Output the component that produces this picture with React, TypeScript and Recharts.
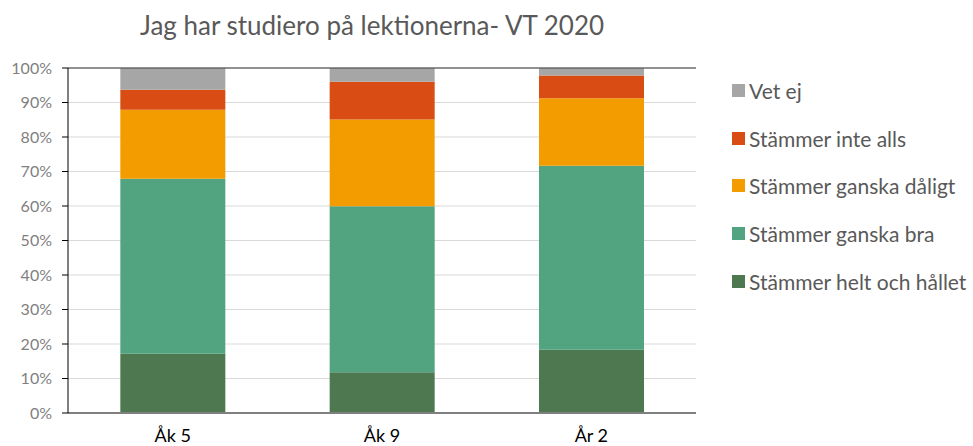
import { BarChart, Bar, XAxis, YAxis, CartesianGrid, ReferenceLine } from "recharts";

// categories (school years)
const categories = ["Åk 5", "Åk 9", "År 2"];

// answer shares in percent, bottom → top of each stack
const heltOchHallet = [17.2, 11.8, 18.3];
const ganskaBra = [50.7, 48.1, 53.4];
const ganskaDaligt = [20.0, 25.2, 19.5];
const inteAlls = [5.8, 10.9, 6.6];
const vetEj = [6.3, 4.0, 2.2];

const yTicks = [0, 10, 20, 30, 40, 50, 60, 70, 80, 90, 100];

const series = [
  { key: "helt", name: "Stämmer helt och hållet", values: heltOchHallet, color: "#4E784F" },
  { key: "bra", name: "Stämmer ganska bra", values: ganskaBra, color: "#52A37F" },
  { key: "daligt", name: "Stämmer ganska dåligt", values: ganskaDaligt, color: "#F39C00" },
  { key: "inte", name: "Stämmer inte alls", values: inteAlls, color: "#D94C13" },
  { key: "vet", name: "Vet ej", values: vetEj, color: "#A6A6A6" },
];

const data = categories.map((cat, i) => {
  const row: any = { cat };
  series.forEach((s) => (row[s.key] = s.values[i]));
  return row;
});

const FONT = "Lato, 'Open Sans', sans-serif";

export default function App() {
  return (
    <div style={{ position: "absolute", left: 0, top: 0, width: 973, height: 446, background: "#fff", fontFamily: FONT }}>
      <div
        style={{
          position: "absolute",
          left: 0,
          width: 744,
          top: 9,
          textAlign: "center",
          fontSize: 26,
          color: "#595959",
        }}
      >
        Jag har studiero på lektionerna- VT 2020
      </div>

      <BarChart
        width={973}
        height={446}
        data={data}
        margin={{ top: 68, right: 277, bottom: 3, left: 8 }}
        barCategoryGap="25%"
      >
        <CartesianGrid vertical={false} stroke="#D9D9D9" />
        <XAxis
          dataKey="cat"
          height={30}
          tickLine={false}
          axisLine={{ stroke: "#7F7F7F", strokeWidth: 2 }}
          tick={{ fill: "#000", fontSize: 18, fontFamily: FONT }}
          tickMargin={10}
        />
        <YAxis
          width={60}
          domain={[0, 100]}
          ticks={yTicks}
          tickFormatter={(v) => `${v}%`}
          axisLine={{ stroke: "#000" }}
          tickLine={{ stroke: "#000" }}
          tickSize={6}
          tickMargin={10}
          tick={{ fill: "#7F7F7F", fontSize: 16, fontFamily: FONT }}
        />
        <YAxis
          yAxisId="r"
          orientation="right"
          width={0}
          domain={[0, 100]}
          tick={false}
          tickLine={false}
          axisLine={{ stroke: "#404040" }}
        />
        <ReferenceLine y={100} stroke="#404040" />
        {series.map((s) => (
          <Bar key={s.key} dataKey={s.key} name={s.name} stackId="a" fill={s.color} isAnimationActive={false} />
        ))}
      </BarChart>

      <div style={{ position: "absolute", left: 732, top: 67 }}>
        {[...series].reverse().map((s) => (
          <div key={s.key} style={{ display: "flex", alignItems: "center", height: 47.6 }}>
            <span style={{ width: 13, height: 13, background: s.color, display: "inline-block", marginRight: 4 }} />
            <span style={{ fontSize: 21, color: "#595959", whiteSpace: "nowrap" }}>{s.name}</span>
          </div>
        ))}
      </div>
    </div>
  );
}
